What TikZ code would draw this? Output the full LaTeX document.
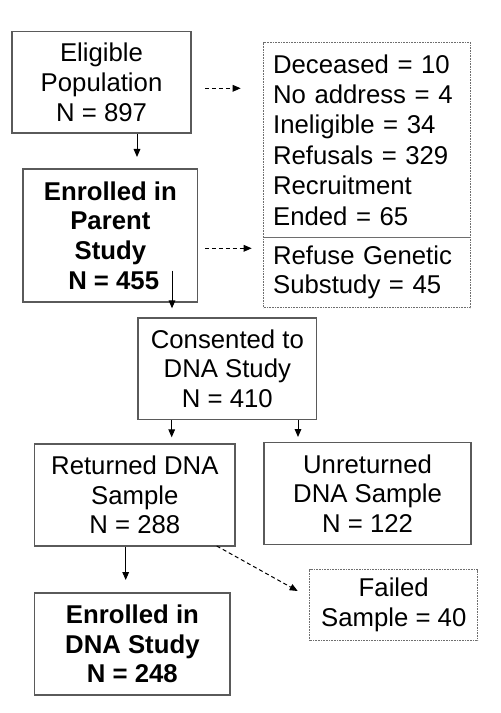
\documentclass[tikz,border=0pt]{standalone}
\usepackage{fontspec}
\setmainfont{Liberation Sans}
\usetikzlibrary{arrows.meta}

\tikzset{every picture/.style={line width=0.75pt}}
\tikzset{
  box/.style={draw={rgb,255:red,90;green,90;blue,90}, line width=1.1pt, anchor=north west, inner sep=0pt, align=center, font=\fontsize{19.3}{22.3}\selectfont},
  dotbox/.style={draw={rgb,255:red,110;green,110;blue,110}, line width=0.7pt, dash pattern=on 0.6pt off 0.6pt, anchor=north west, inner xsep=7pt, inner ysep=0pt, align=left, font=\fontsize{19.3}{22.8}\selectfont},
  arr/.style={-{Triangle[length=6pt,width=5pt]}, line width=0.75pt},
  darr/.style={arr, dash pattern=on 3pt off 2.2pt},
}

\begin{document}
\begin{tikzpicture}[x=0.75pt,y=0.75pt,yscale=-1,xscale=1]
        \useasboundingbox (0,0) rectangle (500,713);

        % Boxes
        \node [box, minimum width=134.25pt, minimum height=76.2pt] (elig) at (11.3,30.7) {Eligible\\Population\\N = 897};
        \node [box, minimum width=131pt, minimum height=99.75pt] (parent) at (22.3,168.3) {\textbf{Enrolled in}\\\textbf{Parent}\\\textbf{Study}\\\hspace*{5pt}\textbf{N = 455}};
        \node [dotbox, text width=141.25pt, minimum height=145.8pt] (excl) at (263.3,42.3) {Deceased = 10\\No address = 4\\Ineligible = 34\\Refusals = 329\\Recruitment\\Ended = 65};
        \node [dotbox, text width=141.25pt, minimum height=52.95pt, font=\fontsize{19.3}{21.3}\selectfont] (refuse) at (263.3,236.7) {Refuse Genetic\\Substudy = 45};
        \node [box, minimum width=134pt, minimum height=76pt] (cons) at (137.3,317.3) {Consented to\\DNA Study\\N = 410};
        \node [box, minimum width=150.2pt, minimum height=76.3pt] (ret) at (34,443.3) {Returned DNA\\Sample\\N = 288};
        \node [box, minimum width=155.25pt, minimum height=76.5pt] (unret) at (263.3,441.7) {Unreturned\\DNA Sample\\N = 122};
        \node [box, minimum width=146.5pt, minimum height=76.3pt] (dna) at (34,592.3) {\textbf{Enrolled in}\\\textbf{DNA Study}\\\textbf{N = 248}};
        \node [dotbox, align=center, inner xsep=0pt, minimum width=126pt, minimum height=53pt] (failed) at (309.3,569.3) {Failed\\Sample = 40};

        % Arrow ends
        \coordinate (t1) at (137,157);
        \coordinate (s2) at (172,270.7);
        \coordinate (t2) at (172,308.3);
        \coordinate (t3) at (171.7,437.3);
        \coordinate (t4) at (298,437);
        \coordinate (t5) at (125.7,580);
        \coordinate (s6) at (205,88.3);
        \coordinate (t6) at (240.7,88.3);
        \coordinate (s7) at (205,248.3);
        \coordinate (t7) at (251.7,248.3);
        \coordinate (s8) at (216.7,546);
        \coordinate (t8) at (297.7,591);

        % Solid arrows
        \draw [arr] (elig.south -| t1) -- (t1);
        \draw [arr] (s2) -- (t2);
        \draw [arr] (cons.south -| t3) -- (t3);
        \draw [arr] (cons.south -| t4) -- (t4);
        \draw [arr] (ret.south -| t5) -- (t5);
        % Dashed arrows
        \draw [darr] (s6) -- (t6);
        \draw [darr] (s7) -- (t7);
        \draw [darr] (s8) -- (t8);
\end{tikzpicture}
\end{document}
